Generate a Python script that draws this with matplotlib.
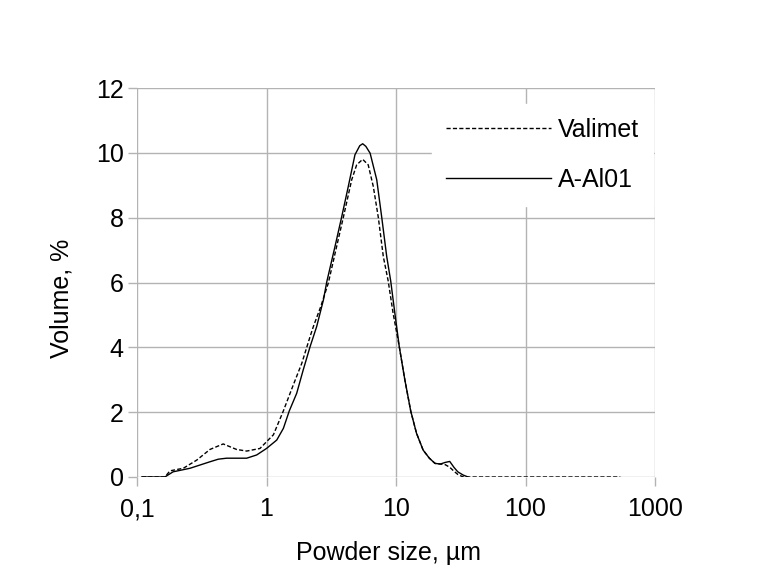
import matplotlib
matplotlib.use("Agg")
import matplotlib.pyplot as plt
from matplotlib.ticker import FixedLocator, FixedFormatter

plt.rcParams["font.family"] = ["Liberation Sans", "DejaVu Sans"]

# particle size distributions (size in um, volume %)
valimet_x = [0.109, 0.164, 0.18, 0.228, 0.289, 0.366, 0.463, 0.587, 0.703, 0.89,
             1.06, 1.13, 1.35, 1.61, 1.87, 2.17, 2.30, 2.62, 3.00, 3.48, 3.92,
             4.55, 4.97, 5.53, 6.10, 6.68, 7.30, 7.98, 8.70, 9.50, 10.6, 11.7,
             13.0, 14.4, 16.2, 18.1, 20.0, 22.0, 24.0, 26.0, 28.0, 30.0, 33.0,
             100, 540]
valimet_y = [0, 0, 0.19, 0.27, 0.52, 0.85, 1.02, 0.85, 0.80, 0.88,
             1.19, 1.30, 2.04, 2.84, 3.50, 4.33, 4.64, 5.25, 5.98, 7.11, 8.01,
             9.17, 9.63, 9.80, 9.63, 8.96, 8.01, 6.80, 6.05, 5.05, 4.02, 3.0,
             2.03, 1.35, 0.83, 0.58, 0.42, 0.40, 0.38, 0.30, 0.18, 0.08, 0.0,
             0, 0]

aal_x = [0.109, 0.164, 0.19, 0.257, 0.366, 0.425, 0.492, 0.703, 0.84, 1.0,
         1.2, 1.35, 1.5, 1.71, 1.92, 2.17, 2.44, 2.75, 2.92, 3.38, 3.80,
         4.28, 4.82, 5.25, 5.53, 5.85, 6.31, 7.10, 7.76, 8.48, 9.10, 9.80, 10.6, 11.7,
         13.0, 14.4, 16.2, 18.1, 20.0, 22.0, 24.0, 26.0, 28.0, 30.0, 33.0, 36.0]
aal_y = [0, 0, 0.16, 0.27, 0.47, 0.55, 0.58, 0.58, 0.68, 0.88,
         1.14, 1.50, 2.04, 2.58, 3.30, 4.02, 4.64, 5.46, 6.02, 7.11, 8.01,
         8.96, 9.94, 10.22, 10.28, 10.2, 9.99, 9.17, 8.01, 6.80, 6.05, 5.05, 4.02, 3.0,
         2.03, 1.35, 0.83, 0.58, 0.42, 0.40, 0.45, 0.48, 0.30, 0.16, 0.06, 0.0]

x_ticks = [0.1, 1, 10, 100, 1000]
x_labels = ["0,1", "1", "10", "100", "1000"]
y_ticks = [0, 2, 4, 6, 8, 10, 12]

GRID = "#b3b3b3"
FS = 18

fig = plt.figure(figsize=(7.79, 5.76), dpi=100)
ax = fig.add_axes([137 / 779, 99 / 576, 518 / 779, 389 / 576])

ax.plot(valimet_x, valimet_y, color="black", lw=1.0, ls=(0, (3, 1.6)), label="Valimet")
ax.plot(aal_x, aal_y, color="black", lw=1.0, label="A-Al01")

ax.set_xscale("log")
ax.set_xlim(0.1, 1000)
ax.set_ylim(0, 12)
ax.xaxis.set_major_locator(FixedLocator(x_ticks))
ax.xaxis.set_major_formatter(FixedFormatter(x_labels))
ax.xaxis.set_minor_locator(FixedLocator([]))
ax.set_yticks(y_ticks)

for s in ax.spines.values():
    s.set_visible(False)
ax.grid(True, color=GRID, lw=1.0)
ax.set_axisbelow(True)
ax.tick_params(axis="both", colors=GRID, labelcolor="black", labelsize=FS,
               length=6.5, width=1.0, direction="out")
ax.tick_params(axis="x", pad=8)
ax.tick_params(axis="y", pad=3)

ax.set_xlabel("Powder size, µm", fontsize=FS)
ax.set_ylabel("Volume, %", fontsize=FS)
# labels sit a bit off-centre in the original
ax.xaxis.set_label_coords((388 - 137) / 518, -(553 - 477) / 389)
ax.yaxis.set_label_coords(-(137 - 62) / 518, (477 - 298) / 389)
ax.xaxis.label.set_va("center")
ax.yaxis.label.set_va("center")

leg = ax.legend(loc="upper left", bbox_to_anchor=((432 - 137) / 518, (477 - 104) / 389),
                borderaxespad=0, fontsize=FS, handlelength=4.2, handletextpad=0.3,
                labelspacing=1.05, borderpad=0.55, frameon=True, fancybox=False)
leg.get_frame().set_edgecolor("white")
leg.get_frame().set_facecolor("white")
leg.get_frame().set_alpha(1.0)

fig.savefig("out.png", dpi=100)
